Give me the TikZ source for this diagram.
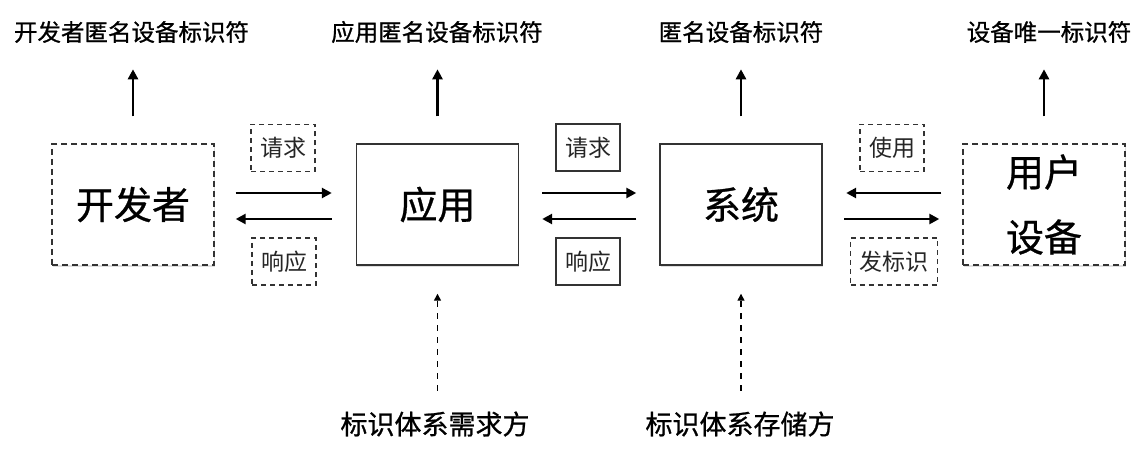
\documentclass[tikz,border=0pt]{standalone}
\usepackage{fontspec}
\newfontfamily\cjk[FakeBold=0.8]{Noto Sans CJK SC}
\newfontfamily\cjkl{Noto Sans CJK SC}
\usetikzlibrary{arrows.meta,shadows}
\begin{document}
\begin{tikzpicture}[x=1pt,y=1pt,
 box/.style={draw=black!80, line width=1.4pt, fill=white, minimum width=162pt, minimum height=121pt, inner sep=0pt, align=center, font=\cjk\fontsize{38}{65}\selectfont, drop shadow={shadow xshift=0.5pt, shadow yshift=-2.5pt, opacity=0.25}},
 dbox/.style={box, dash pattern=on 6pt off 4pt},
 lab/.style={draw=black!80, line width=1.1pt, fill=white, minimum width=64pt, minimum height=47pt, inner xsep=9pt, inner ysep=0pt, text=black!85, font=\cjkl\fontsize{23}{26}\selectfont},
 dlab/.style={lab, dash pattern=on 5pt off 4pt},
 toptext/.style={font=\cjk\fontsize{23.5}{26}\selectfont, inner sep=0pt},
 bottext/.style={font=\cjk\fontsize{27}{30}\selectfont, inner sep=0pt},
 arr/.style={line width=2.6pt, -{Triangle[length=10pt,width=10pt]}},
 darr/.style={line width=1.3pt, dash pattern=on 6pt off 6pt, -{Triangle[length=7pt,width=7pt]}}
]
\fill[white] (0,0) rectangle (1145,-454);
\useasboundingbox (0,0) rectangle (1145,-454);

% main boxes
\node[dbox] (dev) at (133,-204.5) {开发者};
\node[box] (app) at (437.5,-204.5) {应用};
\node[box] (sys) at (741,-204.5) {系统};
\node[dbox] (ud) at (1044,-204.5) {用户\\设备};

% top labels
\node[toptext] (t1) at (131.5,-32) {开发者匿名设备标识符};
\node[toptext] (t2) at (437,-32) {应用匿名设备标识符};
\node[toptext] (t3) at (741,-32) {匿名设备标识符};
\node[toptext] (t4) at (1049,-32) {设备唯一标识符};

\draw[arr] ([yshift=27pt]dev.north) -- ([yshift=74pt]dev.north);
\draw[arr] ([yshift=27pt]app.north) -- ([yshift=74pt]app.north);
\draw[arr] ([yshift=27pt]sys.north) -- ([yshift=74pt]sys.north);
\draw[arr] ([yshift=27pt]ud.north) -- ([yshift=74pt]ud.north);

% horizontal arrows
\draw[arr, shorten <=21pt, shorten >=24pt] ([yshift=11.5pt]dev.east) -- ([yshift=11.5pt]app.west);
\draw[arr, shorten <=24pt, shorten >=21pt] ([yshift=-14.5pt]app.west) -- ([yshift=-14.5pt]dev.east);
\draw[arr, shorten <=23pt, shorten >=23pt] ([yshift=11.5pt]app.east) -- ([yshift=11.5pt]sys.west);
\draw[arr, shorten <=23pt, shorten >=23pt] ([yshift=-14.5pt]sys.west) -- ([yshift=-14.5pt]app.east);
\draw[arr, shorten <=21pt, shorten >=23.5pt] ([yshift=11.5pt]ud.west) -- ([yshift=11.5pt]sys.east);
\draw[arr, shorten <=21.5pt, shorten >=23pt] ([yshift=-14.5pt]sys.east) -- ([yshift=-14.5pt]ud.west);

% small labels
\node[dlab] (r1) at (283,-148) {请求};
\node[dlab] (s1) at (284,-261.5) {响应};
\node[lab] (r2) at (588,-147.5) {请求};
\node[lab] (s2) at (588,-261.5) {响应};
\node[dlab] (u1) at (892,-148) {使用};
\node[dlab] (f1) at (894,-261.5) {发标识};

% bottom labels
\node[bottext] (b1) at (435,-424) {标识体系需求方};
\node[bottext] (b2) at (740,-424) {标识体系存储方};
\draw[darr] ([yshift=-125pt]app.south) -- ([yshift=-28pt]app.south);
\draw[darr] ([yshift=-125pt]sys.south) -- ([yshift=-28pt]sys.south);
\end{tikzpicture}
\end{document}
